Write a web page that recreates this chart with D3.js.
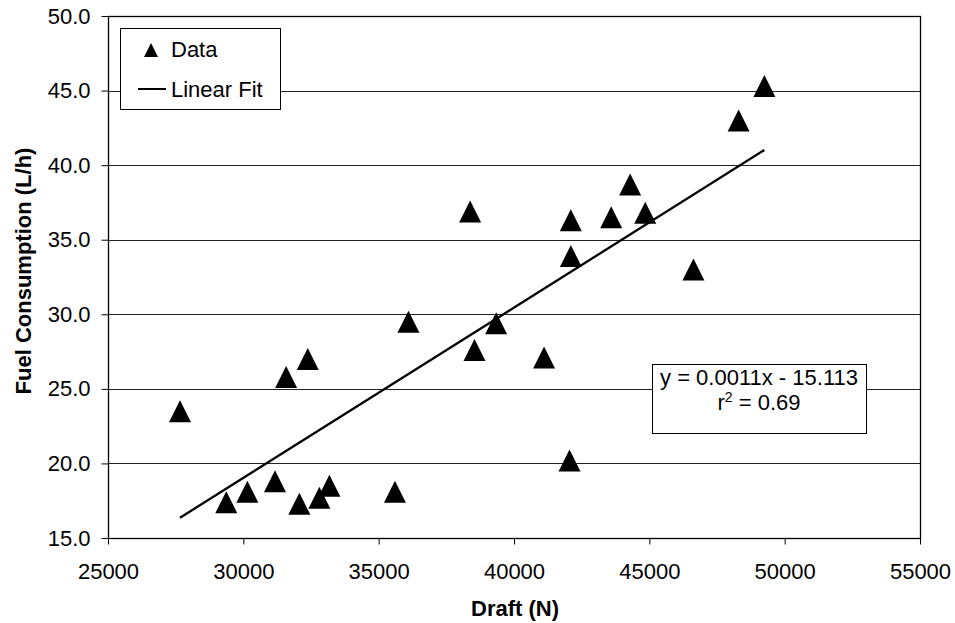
<!DOCTYPE html>
<html>
<head>
<meta charset="utf-8">
<script src="https://cdn.jsdelivr.net/npm/d3@7"></script>
<style>
  body { margin: 0; background: #fff; }
  svg { display: block; font-family: "Liberation Sans", Arial, sans-serif; }
  .axis path { display: none; }
  .axis line { stroke: #000; }
  .axis text { font-size: 22px; fill: #000; }
</style>
</head>
<body>
<svg id="chart" width="955" height="623"></svg>
<script>
// Draft (N) vs fuel consumption (L/h)
var draft = [27660, 29370, 30150, 31170, 31580, 32070, 32380, 32810, 33180, 35600,
             36100, 38380, 38540, 39340, 41110, 42050, 42100, 42100, 43590, 44290,
             44850, 46630, 48300, 49250];
var fuel = [23.5, 17.4, 18.1, 18.8, 25.8, 17.3, 27.0, 17.7, 18.5, 18.1,
            29.5, 36.9, 27.6, 29.4, 27.1, 20.2, 33.9, 36.3, 36.5, 38.7,
            36.8, 33.0, 43.0, 45.3];

var xTicks = [25000, 30000, 35000, 40000, 45000, 50000, 55000];
var yTicks = [15, 20, 25, 30, 35, 40, 45, 50];

// linear fit as drawn
var fitSlope = 0.001142;
var fitIntercept = -15.23;
var eqLines = ["y = 0.0011x - 15.113", "r2 = 0.69"];

var svg = d3.select("#chart");

var plotLeft = 108, plotRight = 920, plotTop = 16, plotBottom = 538;

var x = d3.scaleLinear().domain([25000, 55000]).range([plotLeft, plotRight]);
var y = d3.scaleLinear().domain([15, 50]).range([plotBottom, plotTop]);

// gridlines
svg.append("g")
    .selectAll("line")
    .data(yTicks.slice(1, -1))
    .enter()
    .append("line")
    .attr("x1", plotLeft)
    .attr("x2", plotRight)
    .attr("y1", function(d) { return Math.round(y(d)) + 0.5; })
    .attr("y2", function(d) { return Math.round(y(d)) + 0.5; })
    .attr("stroke", "#222")
    .attr("stroke-width", 1);

// plot border
svg.append("rect")
    .attr("x", plotLeft + 0.5)
    .attr("y", plotTop + 0.5)
    .attr("width", plotRight - plotLeft)
    .attr("height", plotBottom - plotTop)
    .attr("fill", "none")
    .attr("stroke", "#000")
    .attr("stroke-width", 1.3);

// axes
svg.append("g")
    .attr("class", "axis")
    .attr("transform", "translate(0," + (plotBottom + 0.5) + ")")
    .call(d3.axisBottom(x).tickValues(xTicks).tickFormat(d3.format("d"))
        .tickSize(6).tickPadding(19));

svg.append("g")
    .attr("class", "axis")
    .attr("transform", "translate(" + (plotLeft + 0.5) + ",0)")
    .call(d3.axisLeft(y).tickValues(yTicks).tickFormat(d3.format(".1f"))
        .tickSize(7).tickPadding(11));

// axis titles
svg.append("text")
    .attr("x", 515)
    .attr("y", 616)
    .attr("text-anchor", "middle")
    .style("font-size", "22px")
    .style("font-weight", "bold")
    .text("Draft (N)");

svg.append("text")
    .attr("transform", "translate(31,271) rotate(-90)")
    .attr("text-anchor", "middle")
    .style("font-size", "22px")
    .style("font-weight", "bold")
    .text("Fuel Consumption (L/h)");

// triangle marker shape
var tri = function(s) {
    return "M0," + (-s) + "L" + s + "," + s + "L" + (-s) + "," + s + "Z";
};

// fit line
var xExt = d3.extent(draft);
svg.append("line")
    .attr("x1", x(xExt[0]))
    .attr("y1", y(fitSlope * xExt[0] + fitIntercept))
    .attr("x2", x(xExt[1]))
    .attr("y2", y(fitSlope * xExt[1] + fitIntercept))
    .attr("stroke", "#000")
    .attr("stroke-width", 2.3);

// data points
svg.append("g")
    .selectAll("path")
    .data(draft)
    .enter()
    .append("path")
    .attr("d", tri(11))
    .attr("transform", function(d, i) {
        return "translate(" + x(d) + "," + y(fuel[i]) + ")";
    })
    .attr("fill", "#000");

// legend
var legend = svg.append("g");
legend.append("rect")
    .attr("x", 120.5).attr("y", 28.5)
    .attr("width", 160).attr("height", 81)
    .attr("fill", "#fff")
    .attr("stroke", "#000");
legend.append("path")
    .attr("d", tri(7))
    .attr("transform", "translate(151,50)")
    .attr("fill", "#000");
legend.append("text")
    .attr("x", 171).attr("y", 57)
    .style("font-size", "22px")
    .text("Data");
legend.append("line")
    .attr("x1", 138).attr("x2", 166)
    .attr("y1", 89).attr("y2", 89)
    .attr("stroke", "#000")
    .attr("stroke-width", 2);
legend.append("text")
    .attr("x", 171).attr("y", 97)
    .style("font-size", "22px")
    .text("Linear Fit");

// equation box
var eq = svg.append("g");
eq.append("rect")
    .attr("x", 652.5).attr("y", 364.5)
    .attr("width", 214).attr("height", 69)
    .attr("fill", "#fff")
    .attr("stroke", "#000");
eq.append("text")
    .attr("x", 759).attr("y", 385)
    .attr("text-anchor", "middle")
    .style("font-size", "22px")
    .text(eqLines[0]);
var r2 = eq.append("text")
    .attr("x", 759).attr("y", 410)
    .attr("text-anchor", "middle")
    .style("font-size", "22px");
r2.append("tspan").text("r");
r2.append("tspan").attr("dy", -8).style("font-size", "14px").text("2");
r2.append("tspan").attr("dy", 8).text(" = 0.69");
</script>
</body>
</html>
